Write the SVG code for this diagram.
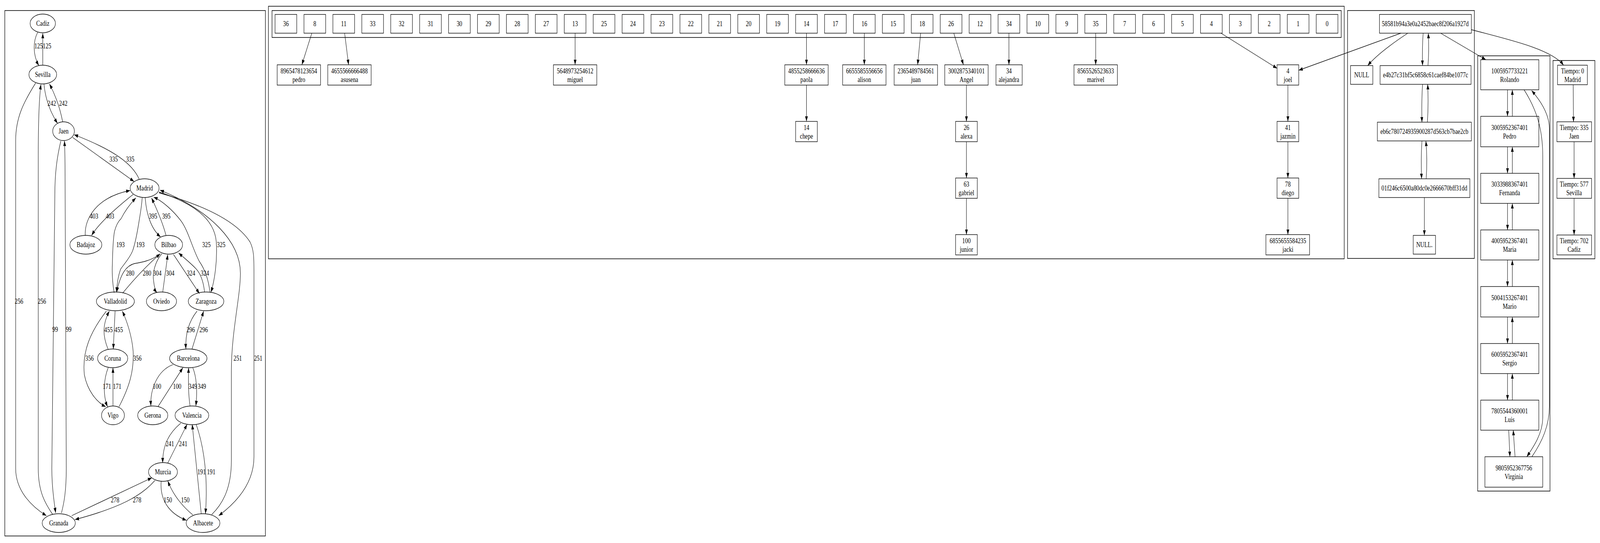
<svg xmlns="http://www.w3.org/2000/svg" width="5311" height="1391" viewBox="0 0 5311 1391" preserveAspectRatio="none">
<defs>
<style>
:root{width:100vw;height:100vh}
.bg{fill:#fff}
.c{fill:none;stroke:#000;stroke-width:1.6}
.n{fill:none;stroke:#000;stroke-width:1.4}
.e{fill:none;stroke:#000;stroke-width:1.3;marker-end:url(#ah)}
.t{font-family:"Liberation Serif","Times New Roman",serif;font-size:18.67px;fill:#000;text-anchor:middle}
</style>
<marker id="ah" viewBox="0 0 10 7" refX="10" refY="3.5" markerWidth="13.3" markerHeight="9.3" markerUnits="userSpaceOnUse" orient="auto"><path d="M0,0 L10,3.5 L0,7 z" fill="#000"/></marker>
</defs>
<rect class="bg" x="0" y="0" width="5311" height="1391"/>

<g id="clusters">
<rect class="c" x="16" y="27" width="865" height="1346"/>
<rect class="c" x="891" y="16" width="3571" height="647"/>
<rect class="c" x="903" y="27" width="3549" height="69"/>
<rect class="c" x="4473" y="27" width="421" height="635"/>
<rect class="c" x="4905" y="143" width="240" height="1115"/>
<rect class="c" x="5155" y="155" width="139" height="508"/>
</g>

<g id="Cadiz"><ellipse class="n" cx="142" cy="60" rx="42" ry="24"/><text class="t" x="142" y="66.5">Cadiz</text></g>
<g id="Sevilla"><ellipse class="n" cx="142" cy="191" rx="46" ry="24"/><text class="t" x="142" y="197.5">Sevilla</text></g>
<g id="Jaen"><ellipse class="n" cx="211" cy="336" rx="36" ry="24"/><text class="t" x="211" y="342.5">Jaen</text></g>
<g id="Madrid"><ellipse class="n" cx="480" cy="482" rx="48" ry="24"/><text class="t" x="480" y="488.5">Madrid</text></g>
<g id="Badajoz"><ellipse class="n" cx="285" cy="627" rx="53" ry="24"/><text class="t" x="285" y="633.5">Badajoz</text></g>
<g id="Bilbao"><ellipse class="n" cx="560" cy="627" rx="46" ry="24"/><text class="t" x="560" y="633.5">Bilbao</text></g>
<g id="Valladolid"><ellipse class="n" cx="383" cy="772" rx="63" ry="24"/><text class="t" x="383" y="778.5">Valladolid</text></g>
<g id="Oviedo"><ellipse class="n" cx="536" cy="772" rx="50" ry="24"/><text class="t" x="536" y="778.5">Oviedo</text></g>
<g id="Zaragoza"><ellipse class="n" cx="684" cy="772" rx="59" ry="24"/><text class="t" x="684" y="778.5">Zaragoza</text></g>
<g id="Coruna"><ellipse class="n" cx="374" cy="918" rx="50" ry="24"/><text class="t" x="374" y="924.5">Coruna</text></g>
<g id="Barcelona"><ellipse class="n" cx="625" cy="918" rx="62" ry="24"/><text class="t" x="625" y="924.5">Barcelona</text></g>
<g id="Vigo"><ellipse class="n" cx="375" cy="1064" rx="38" ry="24"/><text class="t" x="375" y="1070.5">Vigo</text></g>
<g id="Gerona"><ellipse class="n" cx="507" cy="1064" rx="50" ry="24"/><text class="t" x="507" y="1070.5">Gerona</text></g>
<g id="Valencia"><ellipse class="n" cx="637" cy="1064" rx="56" ry="24"/><text class="t" x="637" y="1070.5">Valencia</text></g>
<g id="Murcia"><ellipse class="n" cx="541" cy="1209" rx="48" ry="24"/><text class="t" x="541" y="1215.5">Murcia</text></g>
<g id="Granada"><ellipse class="n" cx="195" cy="1340" rx="55" ry="24"/><text class="t" x="195" y="1346.5">Granada</text></g>
<g id="Albacete"><ellipse class="n" cx="674" cy="1340" rx="56" ry="24"/><text class="t" x="674" y="1346.5">Albacete</text></g>

<g id="slot36"><rect class="n" x="913" y="37" width="72" height="48"/><text class="t" x="949" y="67.5">36</text></g>
<g id="slot8"><rect class="n" x="1009" y="37" width="72" height="48"/><text class="t" x="1045" y="67.5">8</text></g>
<g id="slot11"><rect class="n" x="1105" y="37" width="72" height="48"/><text class="t" x="1141" y="67.5">11</text></g>
<g id="slot33"><rect class="n" x="1201" y="37" width="72" height="48"/><text class="t" x="1237" y="67.5">33</text></g>
<g id="slot32"><rect class="n" x="1297" y="37" width="72" height="48"/><text class="t" x="1333" y="67.5">32</text></g>
<g id="slot31"><rect class="n" x="1393" y="37" width="72" height="48"/><text class="t" x="1429" y="67.5">31</text></g>
<g id="slot30"><rect class="n" x="1489" y="37" width="72" height="48"/><text class="t" x="1525" y="67.5">30</text></g>
<g id="slot29"><rect class="n" x="1585" y="37" width="72" height="48"/><text class="t" x="1621" y="67.5">29</text></g>
<g id="slot28"><rect class="n" x="1681" y="37" width="72" height="48"/><text class="t" x="1717" y="67.5">28</text></g>
<g id="slot27"><rect class="n" x="1777" y="37" width="72" height="48"/><text class="t" x="1813" y="67.5">27</text></g>
<g id="slot13"><rect class="n" x="1873" y="37" width="72" height="48"/><text class="t" x="1909" y="67.5">13</text></g>
<g id="slot25"><rect class="n" x="1969" y="37" width="72" height="48"/><text class="t" x="2005" y="67.5">25</text></g>
<g id="slot24"><rect class="n" x="2065" y="37" width="72" height="48"/><text class="t" x="2101" y="67.5">24</text></g>
<g id="slot23"><rect class="n" x="2161" y="37" width="72" height="48"/><text class="t" x="2197" y="67.5">23</text></g>
<g id="slot22"><rect class="n" x="2257" y="37" width="72" height="48"/><text class="t" x="2293" y="67.5">22</text></g>
<g id="slot21"><rect class="n" x="2353" y="37" width="72" height="48"/><text class="t" x="2389" y="67.5">21</text></g>
<g id="slot20"><rect class="n" x="2449" y="37" width="72" height="48"/><text class="t" x="2485" y="67.5">20</text></g>
<g id="slot19"><rect class="n" x="2545" y="37" width="72" height="48"/><text class="t" x="2581" y="67.5">19</text></g>
<g id="slot14"><rect class="n" x="2641" y="37" width="72" height="48"/><text class="t" x="2677" y="67.5">14</text></g>
<g id="slot17"><rect class="n" x="2737" y="37" width="72" height="48"/><text class="t" x="2773" y="67.5">17</text></g>
<g id="slot16"><rect class="n" x="2833" y="37" width="72" height="48"/><text class="t" x="2869" y="67.5">16</text></g>
<g id="slot15"><rect class="n" x="2929" y="37" width="72" height="48"/><text class="t" x="2965" y="67.5">15</text></g>
<g id="slot18"><rect class="n" x="3025" y="37" width="72" height="48"/><text class="t" x="3061" y="67.5">18</text></g>
<g id="slot26"><rect class="n" x="3121" y="37" width="72" height="48"/><text class="t" x="3157" y="67.5">26</text></g>
<g id="slot12"><rect class="n" x="3217" y="37" width="72" height="48"/><text class="t" x="3253" y="67.5">12</text></g>
<g id="slot34"><rect class="n" x="3313" y="37" width="72" height="48"/><text class="t" x="3349" y="67.5">34</text></g>
<g id="slot10"><rect class="n" x="3409" y="37" width="72" height="48"/><text class="t" x="3445" y="67.5">10</text></g>
<g id="slot9"><rect class="n" x="3505" y="37" width="72" height="48"/><text class="t" x="3541" y="67.5">9</text></g>
<g id="slot35"><rect class="n" x="3601" y="37" width="72" height="48"/><text class="t" x="3637" y="67.5">35</text></g>
<g id="slot7"><rect class="n" x="3697" y="37" width="72" height="48"/><text class="t" x="3733" y="67.5">7</text></g>
<g id="slot6"><rect class="n" x="3793" y="37" width="72" height="48"/><text class="t" x="3829" y="67.5">6</text></g>
<g id="slot5"><rect class="n" x="3889" y="37" width="72" height="48"/><text class="t" x="3925" y="67.5">5</text></g>
<g id="slot4"><rect class="n" x="3985" y="37" width="72" height="48"/><text class="t" x="4021" y="67.5">4</text></g>
<g id="slot3"><rect class="n" x="4081" y="37" width="72" height="48"/><text class="t" x="4117" y="67.5">3</text></g>
<g id="slot2"><rect class="n" x="4177" y="37" width="72" height="48"/><text class="t" x="4213" y="67.5">2</text></g>
<g id="slot1"><rect class="n" x="4273" y="37" width="72" height="48"/><text class="t" x="4309" y="67.5">1</text></g>
<g id="slot0"><rect class="n" x="4369" y="37" width="72" height="48"/><text class="t" x="4405" y="67.5">0</text></g>

<g id="pedro"><rect class="n" x="920" y="166" width="144" height="52"/><text class="t" x="992" y="188">8965478123654</text><text class="t" x="992" y="210">pedro</text></g>
<g id="asusena"><rect class="n" x="1088" y="166" width="144" height="52"/><text class="t" x="1160" y="188">4655566666488</text><text class="t" x="1160" y="210">asusena</text></g>
<g id="miguel"><rect class="n" x="1837" y="166" width="144" height="52"/><text class="t" x="1909" y="188">5648973254612</text><text class="t" x="1909" y="210">miguel</text></g>
<g id="paola"><rect class="n" x="2605" y="166" width="144" height="52"/><text class="t" x="2677" y="188">4855258666636</text><text class="t" x="2677" y="210">paola</text></g>
<g id="alison"><rect class="n" x="2797" y="166" width="144" height="52"/><text class="t" x="2869" y="188">6655585556656</text><text class="t" x="2869" y="210">alison</text></g>
<g id="juan"><rect class="n" x="2968" y="166" width="144" height="52"/><text class="t" x="3040" y="188">2365489784561</text><text class="t" x="3040" y="210">juan</text></g>
<g id="Angel"><rect class="n" x="3136" y="166" width="144" height="52"/><text class="t" x="3208" y="188">3002875340101</text><text class="t" x="3208" y="210">Angel</text></g>
<g id="alejandra"><rect class="n" x="3306" y="166" width="87" height="52"/><text class="t" x="3349" y="188">34</text><text class="t" x="3349" y="210">alejandra</text></g>
<g id="marivel"><rect class="n" x="3565" y="166" width="144" height="52"/><text class="t" x="3637" y="188">8565526523633</text><text class="t" x="3637" y="210">marivel</text></g>
<g id="joel"><rect class="n" x="4239" y="166" width="72" height="52"/><text class="t" x="4275" y="188">4</text><text class="t" x="4275" y="210">joel</text></g>
<g id="chepe"><rect class="n" x="2641" y="311" width="72" height="52"/><text class="t" x="2677" y="333">14</text><text class="t" x="2677" y="355">chepe</text></g>
<g id="alexa"><rect class="n" x="3172" y="311" width="72" height="52"/><text class="t" x="3208" y="333">26</text><text class="t" x="3208" y="355">alexa</text></g>
<g id="jazmin"><rect class="n" x="4239" y="311" width="72" height="52"/><text class="t" x="4275" y="333">41</text><text class="t" x="4275" y="355">jazmin</text></g>
<g id="gabriel"><rect class="n" x="3172" y="456" width="72" height="52"/><text class="t" x="3208" y="478">63</text><text class="t" x="3208" y="500">gabriel</text></g>
<g id="diego"><rect class="n" x="4239" y="456" width="72" height="52"/><text class="t" x="4275" y="478">78</text><text class="t" x="4275" y="500">diego</text></g>
<g id="junior"><rect class="n" x="3172" y="601" width="72" height="52"/><text class="t" x="3208" y="623">100</text><text class="t" x="3208" y="645">junior</text></g>
<g id="jacki"><rect class="n" x="4202" y="601" width="145" height="52"/><text class="t" x="4275" y="623">6855655584235</text><text class="t" x="4275" y="645">jacki</text></g>

<g id="h58581"><rect class="n" x="4579" y="37" width="305" height="48"/><text class="t" x="4731" y="67.5">58581b94a3e0a2452baec8f206a1927d</text></g>
<g id="NULL1"><rect class="n" x="4483" y="168" width="74" height="48"/><text class="t" x="4520" y="198.5">NULL</text></g>
<g id="he4b27"><rect class="n" x="4581" y="168" width="302" height="48"/><text class="t" x="4732" y="198.5">e4b27c31bf5c6858c61caef84be1077c</text></g>
<g id="heb6c"><rect class="n" x="4572" y="313" width="312" height="48"/><text class="t" x="4728" y="343.5">eb6c780724935900287d563cb7bae2cb</text></g>
<g id="h01f2"><rect class="n" x="4577" y="458" width="302" height="48"/><text class="t" x="4728" y="488.5">01f246c6500a80dc0e2666670bff31dd</text></g>
<g id="NULL2"><rect class="n" x="4691" y="603" width="74" height="48"/><text class="t" x="4728" y="633.5">NULL.</text></g>

<g id="Rolando"><rect class="n" x="4915" y="153" width="193" height="77"/><text class="t" x="5011" y="188">1005957733221</text><text class="t" x="5011" y="210">Rolando</text></g>
<g id="Pedro"><rect class="n" x="4915" y="298" width="193" height="78"/><text class="t" x="5011" y="333">3005952367401</text><text class="t" x="5011" y="355">Pedro</text></g>
<g id="Fernanda"><rect class="n" x="4915" y="444" width="193" height="77"/><text class="t" x="5011" y="478">3033988367401</text><text class="t" x="5011" y="500">Fernanda</text></g>
<g id="Maria"><rect class="n" x="4915" y="589" width="193" height="77"/><text class="t" x="5011" y="623">4005952367401</text><text class="t" x="5011" y="645">Maria</text></g>
<g id="Mario"><rect class="n" x="4915" y="734" width="193" height="78"/><text class="t" x="5011" y="769">5004153267401</text><text class="t" x="5011" y="791">Mario</text></g>
<g id="Sergio"><rect class="n" x="4915" y="880" width="193" height="77"/><text class="t" x="5011" y="914">6005952367401</text><text class="t" x="5011" y="936">Sergio</text></g>
<g id="Luis"><rect class="n" x="4915" y="1025" width="193" height="77"/><text class="t" x="5011" y="1059">7805544360001</text><text class="t" x="5011" y="1081">Luis</text></g>
<g id="Virginia"><rect class="n" x="4929" y="1170" width="192" height="78"/><text class="t" x="5025" y="1205">9805952367756</text><text class="t" x="5025" y="1227">Virginia</text></g>

<g id="t0"><rect class="n" x="5170" y="167" width="99" height="50"/><text class="t" x="5220" y="188">Tiempo: 0</text><text class="t" x="5220" y="210">Madrid</text></g>
<g id="t335"><rect class="n" x="5168" y="312" width="115" height="51"/><text class="t" x="5225" y="333">Tiempo: 335</text><text class="t" x="5225" y="355">Jaen</text></g>
<g id="t577"><rect class="n" x="5168" y="457" width="115" height="51"/><text class="t" x="5225" y="478">Tiempo: 577</text><text class="t" x="5225" y="500">Sevilla</text></g>
<g id="t702"><rect class="n" x="5168" y="602" width="115" height="51"/><text class="t" x="5225" y="623">Tiempo: 702</text><text class="t" x="5225" y="645">Cadiz</text></g>

<g id="edges">
<path class="e" d="M142,167 L142,85"/>
<path class="e" d="M125,83 C110,105 108,140 129,168"/>
<path class="e" d="M146,215 C150,250 165,285 191,316"/>
<path class="e" d="M208,312 C200,280 185,245 164,215"/>
<path class="e" d="M241,352 L445,465"/>
<path class="e" d="M462,459 C440,420 380,385 246,345"/>
<path class="e" d="M442,498 C390,530 330,570 304,603"/>
<path class="e" d="M283,603 C280,560 320,505 432,488"/>
<path class="e" d="M482,506 C485,545 500,585 533,607"/>
<path class="e" d="M551,603 C540,570 520,535 503,507"/>
<path class="e" d="M472,506 C470,530 466,545 463,560 C455,600 447,628 440,643 C430,662 410,678 400,690 C391,710 388,730 387,749"/>
<path class="e" d="M379,750 C372,720 372,690 373,677 C374,640 376,610 380,593 C386,575 395,565 402,560 C415,540 435,520 451,507"/>
<path class="e" d="M407,751 C440,720 480,685 532,650"/>
<path class="e" d="M527,653 C500,668 470,672 447,675 C420,680 400,700 387,749"/>
<path class="e" d="M537,650 C515,670 505,700 510,720 C512,735 516,745 521,750"/>
<path class="e" d="M540,749 L557,652"/>
<path class="e" d="M576,652 L662,752"/>
<path class="e" d="M679,748 C675,720 665,700 650,688 C630,672 610,660 593,648"/>
<path class="e" d="M528,492 C640,520 712,560 718,620 C722,670 712,720 700,749"/>
<path class="e" d="M697,749 C692,715 680,690 662,670 C640,640 625,590 600,565 C575,540 540,515 510,505"/>
<path class="e" d="M528,494 C650,520 780,560 830,620 C843,640 843,660 843,700 L843,1170 C843,1240 780,1290 726,1321"/>
<path class="e" d="M703,1318 C740,1290 768,1250 768,1180 L768,950 C768,850 798,760 798,700 C798,620 700,540 531,487"/>
<path class="e" d="M118,213 C80,260 52,300 52,360 L52,1200 C52,1260 110,1300 154,1321"/>
<path class="e" d="M175,1318 C150,1290 127,1260 127,1200 L127,400 C127,300 130,250 136,216"/>
<path class="e" d="M202,361 C190,400 182,440 182,500 L172,1200 C172,1250 180,1290 185,1314"/>
<path class="e" d="M204,1314 C212,1290 220,1260 220,1200 L216,450 C216,400 215,380 214,361"/>
<path class="e" d="M382,797 L376,894"/>
<path class="e" d="M359,895 C340,860 340,830 363,797"/>
<path class="e" d="M353,797 C300,850 272,900 280,960 C290,1000 320,1030 351,1042"/>
<path class="e" d="M395,1042 C430,990 445,950 442,900 C438,860 420,820 406,797"/>
<path class="e" d="M359,942 C345,970 340,1010 357,1042"/>
<path class="e" d="M375,1040 L375,942"/>
<path class="e" d="M654,797 C625,825 615,860 617,894"/>
<path class="e" d="M637,895 L676,797"/>
<path class="e" d="M574,934 C520,950 498,1000 501,1040"/>
<path class="e" d="M525,1041 L607,942"/>
<path class="e" d="M631,1041 C625,1010 625,980 626,942"/>
<path class="e" d="M640,942 C652,965 656,1000 650,1040"/>
<path class="e" d="M600,1084 C560,1110 540,1140 540,1186"/>
<path class="e" d="M557,1186 L621,1087"/>
<path class="e" d="M651,1087 C680,1150 690,1230 682,1316"/>
<path class="e" d="M668,1316 L638,1087"/>
<path class="e" d="M535,1232 C530,1280 560,1315 619,1333"/>
<path class="e" d="M640,1319 C610,1300 575,1270 557,1232"/>
<path class="e" d="M238,1321 L504,1224"/>
<path class="e" d="M514,1231 C470,1270 400,1300 249,1331"/>

<text class="t" x="128" y="124">125</text><text class="t" x="156" y="124">125</text>
<text class="t" x="172" y="271">242</text><text class="t" x="210" y="271">242</text>
<text class="t" x="377" y="414">335</text><text class="t" x="432" y="414">335</text>
<text class="t" x="312" y="560">403</text><text class="t" x="365" y="560">403</text>
<text class="t" x="508" y="560">395</text><text class="t" x="552" y="560">395</text>
<text class="t" x="400" y="633">193</text><text class="t" x="466" y="633">193</text>
<text class="t" x="685" y="633">325</text><text class="t" x="734" y="633">325</text>
<text class="t" x="432" y="706">280</text><text class="t" x="488" y="706">280</text>
<text class="t" x="522" y="706">304</text><text class="t" x="565" y="706">304</text>
<text class="t" x="634" y="706">324</text><text class="t" x="680" y="706">324</text>
<text class="t" x="63" y="778">256</text><text class="t" x="139" y="778">256</text>
<text class="t" x="183" y="850">99</text><text class="t" x="228" y="850">99</text>
<text class="t" x="360" y="851">455</text><text class="t" x="394" y="851">455</text>
<text class="t" x="633" y="851">296</text><text class="t" x="676" y="851">296</text>
<text class="t" x="297" y="924">356</text><text class="t" x="456" y="924">356</text>
<text class="t" x="789" y="924">251</text><text class="t" x="857" y="924">251</text>
<text class="t" x="355" y="996">171</text><text class="t" x="389" y="996">171</text>
<text class="t" x="521" y="996">100</text><text class="t" x="588" y="996">100</text>
<text class="t" x="640" y="996">349</text><text class="t" x="670" y="996">349</text>
<text class="t" x="564" y="1143">241</text><text class="t" x="608" y="1143">241</text>
<text class="t" x="669" y="1215">191</text><text class="t" x="701" y="1215">191</text>
<text class="t" x="382" y="1287">278</text><text class="t" x="455" y="1287">278</text>
<text class="t" x="557" y="1287">150</text><text class="t" x="615" y="1287">150</text>

<path class="e" d="M1035,85 L1002,166"/>
<path class="e" d="M1144,85 L1157,166"/>
<path class="e" d="M1909,85 L1909,166"/>
<path class="e" d="M2677,85 L2677,166"/>
<path class="e" d="M2869,85 L2869,166"/>
<path class="e" d="M3056,85 L3046,166"/>
<path class="e" d="M3166,85 L3198,166"/>
<path class="e" d="M3349,85 L3349,166"/>
<path class="e" d="M3637,85 L3637,166"/>
<path class="e" d="M4053,85 L4239,175"/>
<path class="e" d="M2677,218 L2677,311"/>
<path class="e" d="M3208,218 L3208,311"/>
<path class="e" d="M3208,363 L3208,456"/>
<path class="e" d="M3208,508 L3208,601"/>
<path class="e" d="M4275,218 L4275,311"/>
<path class="e" d="M4275,363 L4275,456"/>
<path class="e" d="M4275,508 L4275,601"/>

<path class="e" d="M4650,85 L4311,180"/>
<path class="e" d="M4673,85 C4620,112 4570,140 4540,168"/>
<path class="e" d="M4724,85 C4721,115 4721,140 4722,168"/>
<path class="e" d="M4740,168 C4743,140 4743,115 4741,85"/>
<path class="e" d="M4722,216 C4719,250 4719,280 4720,313"/>
<path class="e" d="M4738,313 C4741,280 4741,250 4739,216"/>
<path class="e" d="M4720,361 C4717,395 4717,425 4719,458"/>
<path class="e" d="M4734,458 C4737,425 4737,395 4733,361"/>
<path class="e" d="M4728,506 L4728,603"/>
<path class="e" d="M4782,85 L4932,153"/>
<path class="e" d="M4884,76 C5000,100 5150,125 5190,167"/>

<path class="e" d="M5004,230 L5004,298"/><path class="e" d="M5020,298 L5020,230"/>
<path class="e" d="M5004,376 L5004,444"/><path class="e" d="M5020,444 L5020,376"/>
<path class="e" d="M5004,521 L5004,589"/><path class="e" d="M5020,589 L5020,521"/>
<path class="e" d="M5004,666 L5004,734"/><path class="e" d="M5020,734 L5020,666"/>
<path class="e" d="M5004,812 L5004,880"/><path class="e" d="M5020,880 L5020,812"/>
<path class="e" d="M5004,957 L5004,1025"/><path class="e" d="M5020,1025 L5020,957"/>
<path class="e" d="M5008,1102 L5012,1170"/><path class="e" d="M5029,1170 L5023,1102"/>
<path class="e" d="M5059,230 C5100,280 5121,330 5121,400 L5121,1070 C5121,1110 5090,1145 5068,1170"/>
<path class="e" d="M5085,1170 C5120,1130 5143,1090 5143,1040 L5143,330 C5143,290 5110,255 5084,232"/>

<path class="e" d="M5222,217 L5223,312"/>
<path class="e" d="M5225,363 L5225,457"/>
<path class="e" d="M5225,508 L5225,602"/>
</g>
</svg>
